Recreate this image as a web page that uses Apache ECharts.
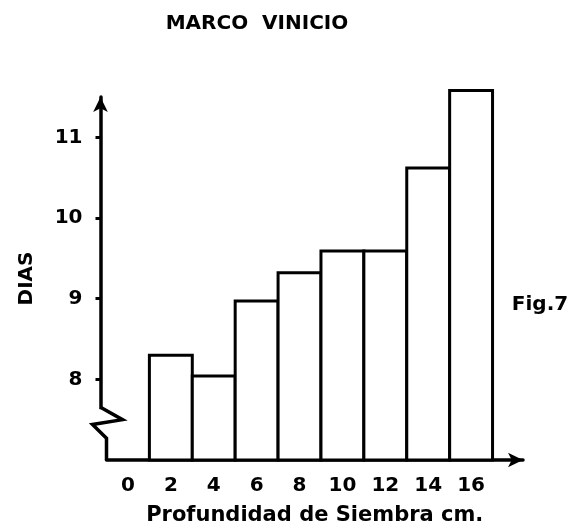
<!DOCTYPE html>
<html>
<head>
<meta charset="utf-8">
<script src="https://cdn.jsdelivr.net/npm/echarts@6/dist/echarts.min.js"></script>
<style>
  html, body { margin: 0; padding: 0; background: #fff; }
  #chart { width: 574px; height: 524px; }
</style>
</head>
<body>
<div id="chart"></div>
<script>
// ---- data ----
const depths = [2, 4, 6, 8, 10, 12, 14, 16];
const dias = [8.30, 8.04, 8.97, 9.32, 9.59, 9.59, 10.62, 11.58];
const xTickValues = [0, 2, 4, 6, 8, 10, 12, 14, 16];
const yTickValues = [8, 9, 10, 11];
const titleText = 'MARCO  VINICIO';
const figText = 'Fig.7';
const xName = 'Profundidad de Siembra cm.';
const yName = 'DIAS';
const binHalf = 1;      // each bar spans ±1 cm around its depth
const yBase = 7;        // bars rise from the (broken) axis base

const FONT = 'DejaVu Sans';
const chart = echarts.init(document.getElementById('chart'), null, { renderer: 'canvas' });

const option = {
  backgroundColor: '#ffffff',
  animation: false,
  title: [
    { text: titleText, left: 252, top: 9, textAlign: 'center',
      textStyle: { fontFamily: FONT, fontWeight: 'bold', fontSize: 20, color: '#000' } },
    { text: figText, left: 535, top: 290, textAlign: 'center',
      textStyle: { fontFamily: FONT, fontWeight: 'bold', fontSize: 20, color: '#000' } }
  ],
  grid: { left: 106.5, right: 51, top: 97, bottom: 64, containLabel: false, outerBoundsMode: 'none' },
  xAxis: {
    type: 'value', min: -1, max: 18.42,
    name: xName, nameLocation: 'middle', nameGap: 45,
    nameTextStyle: { fontFamily: FONT, fontWeight: 'bold', fontSize: 21, color: '#000' },
    axisLine: { show: true, onZero: false, symbol: ['none', 'arrow'], symbolSize: [11, 15],
      lineStyle: { color: '#000', width: 3.5 } },
    axisTick: { show: false },
    splitLine: { show: false },
    axisLabel: { customValues: xTickValues, margin: 16, color: '#000',
      fontFamily: FONT, fontWeight: 'bold', fontSize: 20 }
  },
  yAxis: {
    type: 'value', min: yBase, max: 11.5, offset: 6,
    name: yName, nameLocation: 'middle', nameGap: 64, nameRotate: 90,
    nameTextStyle: { fontFamily: FONT, fontWeight: 'bold', fontSize: 20, color: '#000' },
    axisLine: { show: true, onZero: false, symbol: ['none', 'arrow'], symbolSize: [11, 15],
      lineStyle: { color: '#000', width: 3.5 } },
    axisTick: { show: true, customValues: yTickValues, length: 5, lineStyle: { color: '#000', width: 3 } },
    splitLine: { show: false },
    axisLabel: { customValues: yTickValues, margin: 18, color: '#000',
      fontFamily: FONT, fontWeight: 'bold', fontSize: 20 }
  },
  series: [{
    type: 'custom',
    clip: false,
    data: depths.map((d, i) => [d, dias[i]]),
    renderItem: function (params, api) {
      const x = api.value(0), y = api.value(1);
      const tl = api.coord([x - binHalf, y]);
      const br = api.coord([x + binHalf, yBase]);
      return {
        type: 'rect',
        shape: { x: tl[0], y: tl[1], width: br[0] - tl[0], height: br[1] - tl[1] },
        style: { fill: '#ffffff', stroke: '#000', lineWidth: 3 }
      };
    }
  }]
};
chart.setOption(option);

// decorative scale-break zigzag on the y axis, anchored to the axis scale
const px = (x, y) => chart.convertToPixel({ gridIndex: 0 }, [x, y]);
const gl = px(-1, yBase)[0];
const ax = gl - 6;
const yb = px(-1, yBase)[1];
const y1 = px(-1, 7.63)[1], y2 = px(-1, 7.5)[1], y3 = px(-1, 7.44)[1], y4 = px(-1, 7.27)[1];
chart.setOption({
  graphic: [
    { type: 'rect', z: 100, shape: { x: ax - 3, y: y1, width: 6.5, height: yb - y1 + 3 },
      style: { fill: '#fff' } },
    { type: 'polyline', z: 101,
      shape: { points: [[ax, y1 - 2], [ax + 22, y2], [ax - 8, y3], [gl, y4], [gl, yb]] },
      style: { stroke: '#000', lineWidth: 3.5, fill: null } }
  ]
});
</script>
</body>
</html>
